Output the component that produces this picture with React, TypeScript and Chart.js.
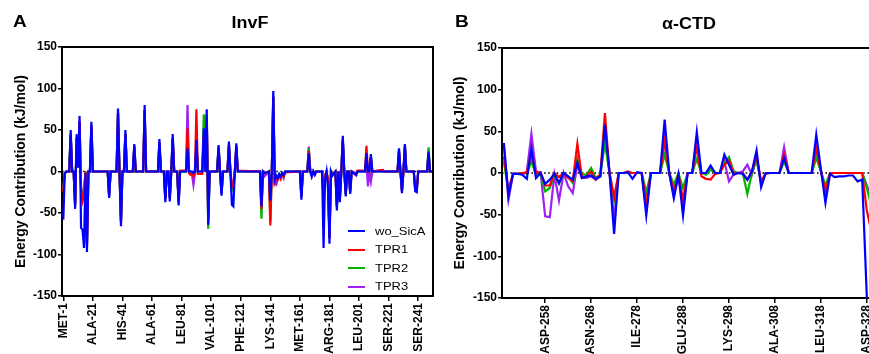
import React, { useEffect, useRef } from "react";
import { Chart, registerables } from "chart.js";

Chart.register(...registerables);

const FONT = "'Liberation Sans', Arial, Helvetica, sans-serif";

const seriesNames = ["wo_SicA", "TPR1", "TPR2", "TPR3"];
const seriesColors = ["#0000FF", "#FF0000", "#00B400", "#A020F0"];

// ---------- Panel A: InvF ----------
const invfResidues = [
  1, 2, 3, 5, 6, 7, 8, 9, 10, 11, 12, 13, 14, 15, 16, 17, 18, 19, 20, 21,
  31, 32, 33, 37, 38, 39, 40, 41, 42, 43, 44, 48, 49, 50, 55, 56, 57, 65, 66, 67,
  69, 70, 71, 72, 73, 74, 75, 76, 78, 79, 80, 84, 85, 86, 87, 88, 89, 90, 91, 92,
  95, 96, 97, 98, 99, 100, 105, 106, 107, 108, 109, 112, 113, 114, 115, 116, 117, 118, 119, 134,
  135, 136, 137, 140, 141, 142, 143, 144, 145, 146, 147, 148, 149, 150, 151, 161, 162, 163, 166, 167,
  168, 169, 170, 171, 172, 176, 177, 178, 179, 180, 181, 182, 183, 185, 186, 187, 188, 189, 190, 191,
  192, 193, 194, 195, 196, 199, 200, 204, 205, 206, 207, 208, 209, 210, 217, 218, 227, 228, 229, 230,
  231, 232, 233, 238, 239, 240, 241, 247, 248, 249, 251,
];
const invfWoSicA = [
  -58, -2, 0, 0, 50, 0, 0, -45, 45, 5, 67, -68, -70, -92, -2, -97, 0, 0, 60, 0,
  0, -32, 0, 0, 76, 0, -66, 0, 0, 50, 0, 0, 33, 0, 0, 80, 0, 0, 39, 0,
  0, -37, 0, 0, -36, 0, 45, 0, 0, -41, 0, 0, 28, 0, 0, 0, -2, 0, 38, 0,
  0, 52, 0, 75, -64, 0, 0, 32, 0, -29, 0, 0, 36, 0, -40, -42, 0, 34, 0, 0,
  -42, 0, -2, 0, -35, 0, 97, -10, -5, -8, -3, -6, -2, -4, 0, 0, -34, 0, 0, 22,
  0, -6, 0, -4, 0, 0, -92, -10, 0, -20, -87, 0, -5, 0, -47, 0, -37, 0, 43, 0,
  -30, 0, 0, -27, 0, -4, 0, 0, 0, 22, 0, 0, 21, 0, 0, 0, 0, 28, 0, -26,
  0, 33, 0, 0, -24, -25, 0, 0, 24, 0, 0,
];
const invfTPR1 = [
  -25, -2, 0, 0, 45, 0, 0, -40, 40, 5, 60, -20, -36, -30, 0, -88, 0, 0, 55, 0,
  0, -29, 0, 0, 70, 0, -60, 0, 0, 45, 0, 0, 30, 0, 0, 74, 0, 0, 35, 0,
  0, -33, 0, 0, -32, 0, 40, 0, 0, -37, 1, 1, 52, -2, -4, -3, -6, -2, 75, -3,
  -3, 45, 0, 68, -58, 0, 0, 29, 0, -26, 0, 0, 32, 0, -17, -19, 0, 30, 1, 0,
  -45, 0, -2, 0, -65, 0, 90, -12, -6, -10, -5, -9, -3, -6, -1, 0, -30, 0, 0, 25,
  0, -4, 0, -3, 0, 0, -35, -5, 0, -10, -80, 0, -3, 0, -42, 0, -33, 0, 38, 0,
  -27, 0, 0, -24, 0, -2, 1, 1, 1, 31, 0, 0, 18, 0, 2, 0, 0, 25, 0, -23,
  0, 30, 0, 0, -22, -22, 0, 0, 22, 0, 0,
];
const invfTPR2 = [
  -22, -2, 0, 0, 44, 0, 0, -40, 40, 5, 60, -22, -26, -25, 0, -88, 0, 0, 55, 0,
  0, -29, 0, 0, 72, 0, -60, 0, 0, 45, 0, 0, 30, 0, 0, 74, 0, 0, 35, 0,
  0, -33, 0, 0, -32, 0, 40, 0, 0, -37, 0, 0, 30, 0, 0, -1, -2, 0, 35, 0,
  0, 69, 0, 68, -69, 0, 0, 29, 0, -26, 0, 0, 32, 0, -22, -23, 0, 30, 0, 0,
  -57, 0, -2, 0, -60, 0, 90, -8, -5, -6, -3, -5, -2, -6, 0, 0, -30, 0, 0, 28,
  0, -4, 0, -3, 0, 0, -30, -5, 0, -10, -80, 0, -3, 0, -42, 0, -33, 0, 38, 0,
  -27, 0, 0, -24, 0, -3, 0, 0, 0, 20, 0, 0, 18, 0, 0, 0, 0, 25, 0, -23,
  0, 30, 0, 0, -22, -22, 0, 0, 29, 0, 0,
];
const invfTPR3 = [
  -20, -2, 0, 0, 44, 0, 0, -40, 40, 5, 60, -20, -25, -25, 0, -88, 0, 0, 55, 0,
  0, -29, 0, 0, 70, 0, -60, 0, 0, 45, 0, 0, 30, 0, 0, 74, 0, 0, 35, 0,
  0, -33, 0, 0, -32, 0, 40, 0, 0, -37, 0, 0, 80, 2, -2, -3, -16, -2, 35, 0,
  0, 45, 0, 68, -58, 0, 0, 29, 0, -26, 0, 0, 32, 0, -15, -18, 0, 30, 0, 0,
  -40, -3, -6, 0, -40, 0, 90, -15, -16, -8, -4, -7, -4, -8, 0, 0, -30, 0, 0, 30,
  2, -6, 0, -4, 0, 0, -30, -5, 0, -10, -80, 0, -3, 0, -42, 0, -33, 0, 38, 0,
  -27, 0, 0, -24, 0, -5, 0, 0, 0, 10, -18, 0, -12, 0, 2, 0, 0, 25, 0, -23,
  0, 30, 0, 0, -22, -22, 0, 0, 22, 0, 0,
];
const invfTickResidues = [1, 21, 41, 61, 81, 101, 121, 141, 161, 181, 201, 221, 241];
const invfTickLabels = [
  "MET-1", "ALA-21", "HIS-41", "ALA-61", "LEU-81", "VAL-101", "PHE-121",
  "LYS-141", "MET-161", "ARG-181", "LEU-201", "SER-221", "SER-241",
];

// ---------- Panel B: alpha-CTD ----------
const ctdResidues = [
  249, 250, 251, 252, 253, 254, 255, 256, 257, 258,
  259, 260, 261, 262, 263, 264, 265, 266, 267, 268,
  269, 270, 271, 272, 273, 274, 275, 276, 277, 278,
  279, 280, 281, 282, 283, 284, 285, 286, 287, 288,
  289, 290, 291, 292, 293, 294, 295, 296, 297, 298,
  299, 300, 301, 302, 303, 304, 305, 306, 307, 308,
  309, 310, 311, 312, 313, 314, 315, 316, 317, 318,
  319, 320, 321, 322, 323, 324, 325, 326, 327, 328,
  329,
];
const ctdWoSicA = [
  36, -28, -1, -1, -2, -7, 29, -6, 0, -13,
  -8, -1, -12, 0, -4, -8, 12, -6, -4, -3,
  -7, -4, 58, 0, -73, 0, 0, 1, -7, 1,
  0, -51, 0, 0, 0, 64, 0, -30, -2, -51,
  0, 0, 49, 0, 0, 9, 0, 0, 22, 10,
  -2, 0, -1, -8, 2, 27, -17, 0, 0, 0,
  0, 18, 0, 0, 0, 0, 0, 0, 46, 5,
  -36, -1, -5, -4, -4, -3, -3, -10, -8, -148,
  -200,
];
const ctdTPR1 = [
  20, -20, -1, -1, 0, 0, 24, 0, 1, -15,
  -15, 0, -5, 0, -6, -10, 35, -6, -4, 2,
  -8, -2, 72, 0, -29, 0, 0, 2, 0, 0,
  0, -35, 0, 0, 0, 38, 0, -22, -2, -32,
  0, 0, 32, -4, -7, -8, -1, 0, 10, 15,
  0, 0, 0, -8, 2, 20, -10, -1, 0, 0,
  0, 22, 0, 0, 0, 0, 0, 0, 29, 3,
  -22, 0, 0, 0, 0, 0, 0, 0, 0, -45,
  -70,
];
const ctdTPR2 = [
  14, -22, -1, -1, 0, -1, 14, -2, -1, -22,
  -18, -2, -13, 0, -4, -12, 17, -2, -2, 6,
  -6, -2, 36, 0, -32, 0, 0, 0, 0, 0,
  0, -23, 0, 0, 0, 22, 0, -14, 0, -18,
  0, 0, 17, 0, -2, 4, 0, 0, 12, 19,
  2, 0, 0, -25, 0, 16, -12, 0, 0, 0,
  0, 14, 0, 0, 0, 0, 0, 0, 18, 2,
  -15, 0, 0, 0, 0, 0, 0, 0, 0, -18,
  -40,
];
const ctdTPR3 = [
  34, -32, -1, -1, 0, 1, 47, 2, 0, -52,
  -53, -2, -33, 0, -16, -24, 10, -6, -6, -4,
  -8, -4, 54, 0, -55, 0, 0, 0, 0, 0,
  0, -45, 0, 0, 0, 43, 0, -28, -2, -40,
  0, 0, 38, 0, 0, 5, 0, 0, 14, -10,
  -2, 0, 2, 10, -2, 18, -12, 0, 0, 0,
  0, 31, 0, 0, 0, 0, 0, 0, 30, 3,
  -25, 0, 0, 0, 0, 0, 0, 0, 0, -15,
  -30,
];
const ctdTickResidues = [258, 268, 278, 288, 298, 308, 318, 328];
const ctdTickLabels = [
  "ASP-258", "ASN-268", "ILE-278", "GLU-288", "LYS-298", "ALA-308", "LEU-318", "ASP-328",
];

const yMin = -150;
const yMax = 150;
const yStep = 50;
const yTitle = "Energy Contribution (kJ/mol)";

const framePlugin = {
  id: "frameAndZero",
  beforeDatasetsDraw(chart: any) {
    const { ctx, chartArea: a, scales } = chart;
    const y0 = scales.y.getPixelForValue(0);
    ctx.save();
    ctx.strokeStyle = "#000";
    ctx.lineWidth = 1.6;
    ctx.setLineDash([1.6, 2.6]);
    ctx.beginPath();
    ctx.moveTo(a.left, y0);
    ctx.lineTo(a.right, y0);
    ctx.stroke();
    ctx.restore();
  },
  afterDraw(chart: any) {
    const { ctx, chartArea: a } = chart;
    ctx.save();
    ctx.strokeStyle = "#000";
    ctx.lineWidth = 2;
    ctx.beginPath();
    ctx.moveTo(a.left - 1, a.top);
    ctx.lineTo(a.right, a.top);
    ctx.lineTo(a.right, a.bottom + 1);
    ctx.stroke();
    ctx.restore();
  },
};

type PanelProps = {
  left: number;
  width: number;
  padTop: number;
  xAxisHeight: number;
  xMin: number;
  xMax: number;
  titlePad: number;
  residues: number[];
  series: number[][];
  tickResidues: number[];
  tickLabels: string[];
};

function Panel(p: PanelProps) {
  const ref = useRef<HTMLCanvasElement>(null);
  useEffect(() => {
    const tickFont = { family: FONT, size: 12, weight: "bold" as const };
    const chart = new Chart(ref.current as HTMLCanvasElement, {
      type: "line",
      data: {
        datasets: seriesNames.map((name, k) => ({
          label: name,
          data: p.residues.map((r, i) => ({ x: r, y: p.series[k][i] })),
          borderColor: seriesColors[k],
          backgroundColor: seriesColors[k],
          borderWidth: 2.2,
          pointRadius: 0,
          tension: 0,
          fill: false,
        })),
      },
      options: {
        responsive: false,
        animation: false,
        devicePixelRatio: 1,
        layout: { padding: { top: p.padTop, right: 7, left: 0, bottom: 0 } },
        plugins: {
          legend: { display: false },
          tooltip: { enabled: false },
          title: { display: false },
        },
        scales: {
          x: {
            type: "linear",
            min: p.xMin,
            max: p.xMax,
            afterBuildTicks: (s: any) => {
              s.ticks = p.tickResidues.map((v) => ({ value: v }));
            },
            afterFit: (s: any) => {
              s.height = p.xAxisHeight;
              s.paddingLeft = 0;
              s.paddingRight = 0;
            },
            ticks: {
              autoSkip: false,
              minRotation: 90,
              maxRotation: 90,
              padding: 2,
              color: "#000",
              font: tickFont,
              callback: (v: any) => {
                const i = p.tickResidues.indexOf(Number(v));
                return i >= 0 ? p.tickLabels[i] : "";
              },
            },
            grid: {
              display: true,
              drawOnChartArea: false,
              drawTicks: true,
              tickLength: 5,
              color: "#000",
              lineWidth: 1.5,
            },
            border: { display: true, color: "#000", width: 2 },
          },
          y: {
            type: "linear",
            min: yMin,
            max: yMax,
            afterFit: (s: any) => {
              s.width = 62;
              s.paddingTop = 0;
              s.paddingBottom = 0;
            },
            ticks: { stepSize: yStep, padding: 1, color: "#000", font: tickFont },
            grid: {
              display: true,
              drawOnChartArea: false,
              drawTicks: true,
              tickLength: 4,
              color: "#000",
              lineWidth: 1.5,
            },
            border: { display: true, color: "#000", width: 2 },
            title: {
              display: true,
              text: yTitle,
              color: "#000",
              font: { family: FONT, size: 14, weight: "bold" },
              padding: { top: p.titlePad, bottom: 0 },
            },
          },
        },
      } as any,
      plugins: [framePlugin],
    });
    return () => chart.destroy();
  }, []);
  return (
    <canvas
      ref={ref}
      width={p.width}
      height={354}
      style={{ position: "absolute", left: p.left, top: 0, width: p.width, height: 354 }}
    />
  );
}

const SX = 1.12;

function Label(props: { text: string; x: number; y: number; size: number; bold?: boolean; center?: boolean }) {
  return (
    <div
      style={{
        position: "absolute",
        left: props.x,
        top: props.y,
        fontFamily: FONT,
        fontSize: props.size,
        lineHeight: `${props.size}px`,
        fontWeight: props.bold ? "bold" : "normal",
        whiteSpace: "nowrap",
        color: "#000",
        transform: props.center ? `translateX(-50%) scaleX(${SX})` : `scaleX(${SX})`,
        transformOrigin: props.center ? "center" : "left",
      }}
    >
      {props.text}
    </div>
  );
}

export default function App() {
  const legendRows = [231, 249.5, 268, 286.5];
  return (
    <div
      style={{
        position: "absolute",
        left: 0,
        top: 0,
        width: 869,
        height: 354,
        overflow: "hidden",
        background: "#fff",
      }}
    >
      <Panel
        left={0}
        width={440}
        padTop={47}
        xAxisHeight={58}
        xMin={0.12}
        xMax={251}
        titlePad={12.4}
        residues={invfResidues}
        series={[invfWoSicA, invfTPR1, invfTPR2, invfTPR3]}
        tickResidues={invfTickResidues}
        tickLabels={invfTickLabels}
      />
      <Panel
        left={440}
        width={443}
        padTop={48}
        xAxisHeight={56}
        xMin={248.6}
        xMax={330}
        titlePad={11.6}
        residues={ctdResidues}
        series={[ctdWoSicA, ctdTPR1, ctdTPR2, ctdTPR3]}
        tickResidues={ctdTickResidues}
        tickLabels={ctdTickLabels}
      />
      <Label text="A" x={13} y={13} size={17} bold />
      <Label text="B" x={455} y={13} size={17} bold />
      <Label text="InvF" x={249.5} y={15} size={16} bold center />
      <Label text="α-CTD" x={689} y={16} size={16} bold center />
      {seriesNames.map((name, k) => (
        <React.Fragment key={name}>
          <div
            style={{
              position: "absolute",
              left: 348,
              top: legendRows[k] - 1,
              width: 17,
              height: 2,
              background: seriesColors[k],
            }}
          />
          <Label text={name} x={375} y={legendRows[k] - 6.5} size={11.6} />
        </React.Fragment>
      ))}
    </div>
  );
}
